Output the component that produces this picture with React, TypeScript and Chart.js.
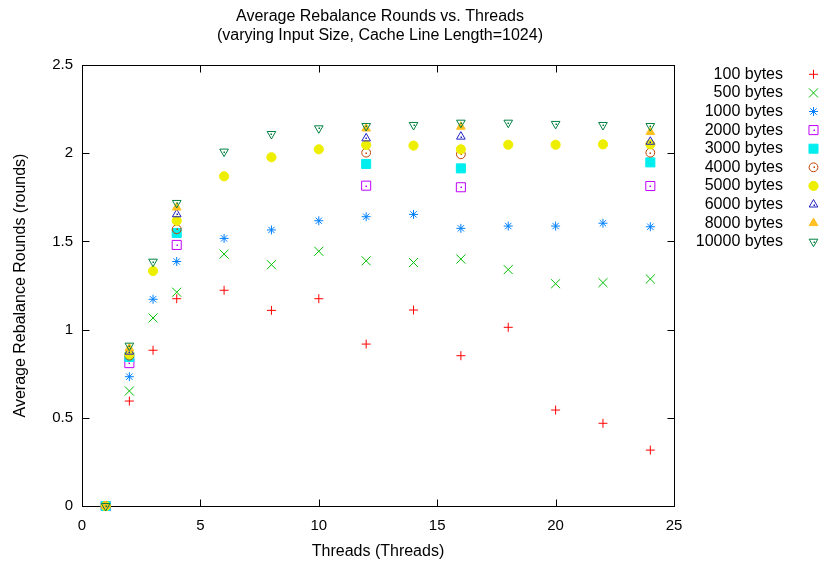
import React, { useEffect, useRef } from "react";
import { Chart, registerables, PointElement } from "chart.js";

Chart.register(...registerables);

// ---- data ----
const THREADS_ALL = [1, 2, 3, 4, 6, 8, 10, 12, 14, 16, 18, 20, 22, 24];
const THREADS_SUBSET = [1, 2, 4, 12, 16, 24];

const ROUNDS_100 = [0, 0.595, 0.883, 1.175, 1.223, 1.109, 1.175, 0.918, 1.111, 0.852, 1.013, 0.544, 0.469, 0.317];
const ROUNDS_500 = [0, 0.652, 1.066, 1.212, 1.428, 1.368, 1.444, 1.39, 1.38, 1.4, 1.34, 1.26, 1.266, 1.287];
const ROUNDS_1000 = [0, 0.733, 1.172, 1.386, 1.517, 1.565, 1.617, 1.64, 1.653, 1.574, 1.587, 1.587, 1.603, 1.583];
const ROUNDS_2000 = [0, 0.81, 1.48, 1.816, 1.807, 1.814];
const ROUNDS_3000 = [0, 0.845, 1.548, 1.939, 1.914, 1.948];
const ROUNDS_4000 = [0, 0.852, 1.569, 2.003, 1.994, 2.003];
const ROUNDS_5000 = [0, 0.86, 1.332, 1.617, 1.869, 1.977, 2.022, 2.047, 2.043, 2.022, 2.048, 2.048, 2.05, 2.05];
const ROUNDS_6000 = [0, 0.875, 1.654, 2.084, 2.094, 2.065];
const ROUNDS_8000 = [0, 0.894, 1.692, 2.14, 2.15, 2.12];
const ROUNDS_10000 = [0, 0.909, 1.385, 1.718, 2.009, 2.109, 2.141, 2.154, 2.16, 2.173, 2.173, 2.166, 2.16, 2.154];

const LABELS = [
  "100 bytes",
  "500 bytes",
  "1000 bytes",
  "2000 bytes",
  "3000 bytes",
  "4000 bytes",
  "5000 bytes",
  "6000 bytes",
  "8000 bytes",
  "10000 bytes",
];

const X_TICKS = [0, 5, 10, 15, 20, 25];
const Y_TICKS = [0, 0.5, 1, 1.5, 2, 2.5];

const TITLE_LINES = ["Average Rebalance Rounds vs. Threads", "(varying Input Size, Cache Line Length=1024)"];
const X_TITLE = "Threads (Threads)";
const Y_TITLE = "Average Rebalance Rounds (rounds)";

const SERIES = [
  { xs: THREADS_ALL, ys: ROUNDS_100 },
  { xs: THREADS_ALL, ys: ROUNDS_500 },
  { xs: THREADS_ALL, ys: ROUNDS_1000 },
  { xs: THREADS_SUBSET, ys: ROUNDS_2000 },
  { xs: THREADS_SUBSET, ys: ROUNDS_3000 },
  { xs: THREADS_SUBSET, ys: ROUNDS_4000 },
  { xs: THREADS_ALL, ys: ROUNDS_5000 },
  { xs: THREADS_SUBSET, ys: ROUNDS_6000 },
  { xs: THREADS_SUBSET, ys: ROUNDS_8000 },
  { xs: THREADS_ALL, ys: ROUNDS_10000 },
];

// ---- styles ----
const STYLES = [
  { color: "#ff0000", style: "cross", r: 4.5, rot: 0, fill: false, dot: false },
  { color: "#00c000", style: "crossRot", r: 6.4, rot: 0, fill: false, dot: false },
  { color: "#0080ff", style: "star", r: 4.5, rot: 0, fill: false, dot: false },
  { color: "#c000ff", style: "rect", r: 6.4, rot: 0, fill: false, dot: true },
  { color: "#00eeee", style: "rect", r: 6.4, rot: 0, fill: true, dot: false },
  { color: "#c04000", style: "circle", r: 4.4, rot: 0, fill: false, dot: true },
  { color: "#eeee00", style: "circle", r: 4.6, rot: 0, fill: true, dot: false },
  { color: "#2020c0", style: "triangle", r: 5, rot: 0, fill: false, dot: true },
  { color: "#ffc020", style: "triangle", r: 5, rot: 0, fill: true, dot: false },
  { color: "#008040", style: "triangle", r: 5, rot: 180, fill: false, dot: true },
];

const FONT = "'Liberation Sans', Arial, Helvetica, sans-serif";

const titlePlugin = {
  id: "plotTitle",
  afterDraw(chart: any) {
    const ctx = chart.ctx;
    const { left, right } = chart.chartArea;
    const cx = (left + right) / 2 + 2;
    ctx.save();
    ctx.font = `16px ${FONT}`;
    ctx.fillStyle = "#000";
    ctx.textAlign = "center";
    ctx.textBaseline = "middle";
    TITLE_LINES.forEach((line, i) => {
      ctx.fillText(line, cx, 17 + i * 19);
    });
    ctx.restore();
  },
};

const frameTicksPlugin = {
  id: "frameTicks",
  beforeDatasetsDraw(chart: any) {
    const { ctx, chartArea, scales } = chart;
    const { left, right, top, bottom } = chartArea;
    const L = Math.round(left) + 0.5;
    const R = Math.round(right) + 0.5;
    const T = Math.round(top) + 0.5;
    const B = Math.round(bottom) + 0.5;
    ctx.save();
    ctx.strokeStyle = "#000";
    ctx.lineWidth = 1;
    ctx.beginPath();
    X_TICKS.forEach((v) => {
      const px = Math.round(scales.x.getPixelForValue(v)) + 0.5;
      ctx.moveTo(px, B);
      ctx.lineTo(px, B - 7);
      ctx.moveTo(px, T);
      ctx.lineTo(px, T + 7);
    });
    Y_TICKS.forEach((v) => {
      const py = Math.round(scales.y.getPixelForValue(v)) + 0.5;
      ctx.moveTo(L, py);
      ctx.lineTo(L + 7, py);
      ctx.moveTo(R, py);
      ctx.lineTo(R - 7, py);
    });
    ctx.stroke();
    ctx.strokeRect(L, T, R - L, B - T);
    ctx.restore();
  },
};

const centerDotPlugin = {
  id: "centerDot",
  afterDatasetDraw(chart: any, args: any) {
    const st = STYLES[args.index];
    if (!st || !st.dot) return;
    const ctx = chart.ctx;
    ctx.save();
    ctx.fillStyle = st.color;
    args.meta.data.forEach((el: any) => {
      ctx.fillRect(Math.round(el.x) - 0.5, Math.round(el.y) - 0.5, 1.5, 1.5);
    });
    ctx.restore();
  },
};

const legendPlugin = {
  id: "customLegend",
  afterDraw(chart: any) {
    const ctx = chart.ctx;
    ctx.save();
    ctx.font = `16px ${FONT}`;
    ctx.textAlign = "right";
    ctx.textBaseline = "middle";
    LABELS.forEach((label, i) => {
      const y = 74.3 + i * 18.6;
      ctx.fillStyle = "#000";
      ctx.fillText(label, 783, y);
      const st = STYLES[i];
      const pe: any = new (PointElement as any)({});
      pe.x = 813.5;
      pe.y = y;
      pe.options = {
        pointStyle: st.style,
        radius: st.r,
        rotation: st.rot,
        borderWidth: 1,
        borderColor: st.color,
        backgroundColor: st.fill ? st.color : "rgba(0,0,0,0)",
      };
      pe.draw(ctx);
      if (st.dot) {
        ctx.fillStyle = st.color;
        ctx.fillRect(Math.round(813.5) - 0.5, Math.round(y) - 0.5, 1.5, 1.5);
      }
    });
    ctx.restore();
  },
};

export default function App() {
  const ref = useRef<HTMLCanvasElement | null>(null);

  useEffect(() => {
    if (!ref.current) return;
    const datasets = SERIES.map((s, i) => {
      const st = STYLES[i];
      return {
        label: LABELS[i],
        data: s.xs.map((x, j) => ({ x, y: s.ys[j] })),
        showLine: false,
        pointStyle: st.style,
        pointRadius: st.r,
        pointHoverRadius: st.r,
        pointRotation: st.rot,
        pointBorderWidth: 1,
        borderColor: st.color,
        pointBorderColor: st.color,
        backgroundColor: st.fill ? st.color : "rgba(0,0,0,0)",
        pointBackgroundColor: st.fill ? st.color : "rgba(0,0,0,0)",
        clip: false,
        order: SERIES.length - i,
      };
    });

    const chart = new Chart(ref.current, {
      type: "scatter",
      data: { datasets } as any,
      plugins: [frameTicksPlugin, centerDotPlugin, legendPlugin, titlePlugin],
      options: {
        animation: false,
        responsive: false,
        devicePixelRatio: 1,
        layout: { padding: { left: 0, right: 145, top: 65, bottom: 0 } },
        plugins: {
          legend: { display: false },
          tooltip: { enabled: false },
          title: { display: false },
        },
        scales: {
          x: {
            type: "linear",
            min: 0,
            max: 25,
            grid: { display: false, drawTicks: false, tickLength: 0 },
            border: { display: false },
            afterBuildTicks: (s: any) => {
              s.ticks = X_TICKS.map((v) => ({ value: v }));
            },
            afterFit: (s: any) => {
              s.height = 61;
            },
            ticks: {
              color: "#000",
              font: { family: FONT, size: 15 },
              padding: 11,
              maxRotation: 0,
              callback: (v: any) => String(v),
            },
            title: {
              display: true,
              text: X_TITLE,
              color: "#000",
              font: { family: FONT, size: 16 },
              padding: { top: 0, bottom: 6 },
            },
          },
          y: {
            type: "linear",
            min: 0,
            max: 2.5,
            grid: { display: false, drawTicks: false, tickLength: 0 },
            border: { display: false },
            afterBuildTicks: (s: any) => {
              s.ticks = Y_TICKS.map((v) => ({ value: v }));
            },
            afterFit: (s: any) => {
              s.width = 82;
            },
            ticks: {
              color: "#000",
              font: { family: FONT, size: 15 },
              padding: 9,
              callback: (v: any) => String(v),
            },
            title: {
              display: true,
              text: Y_TITLE,
              color: "#000",
              font: { family: FONT, size: 16 },
              padding: { top: 11, bottom: 0 },
            },
          },
        },
      } as any,
    });
    return () => chart.destroy();
  }, []);

  return (
    <div style={{ position: "fixed", left: 0, top: 0, width: 819, height: 567, background: "#fff" }}>
      <canvas ref={ref} width={819} height={567} style={{ display: "block", width: 819, height: 567 }} />
    </div>
  );
}
